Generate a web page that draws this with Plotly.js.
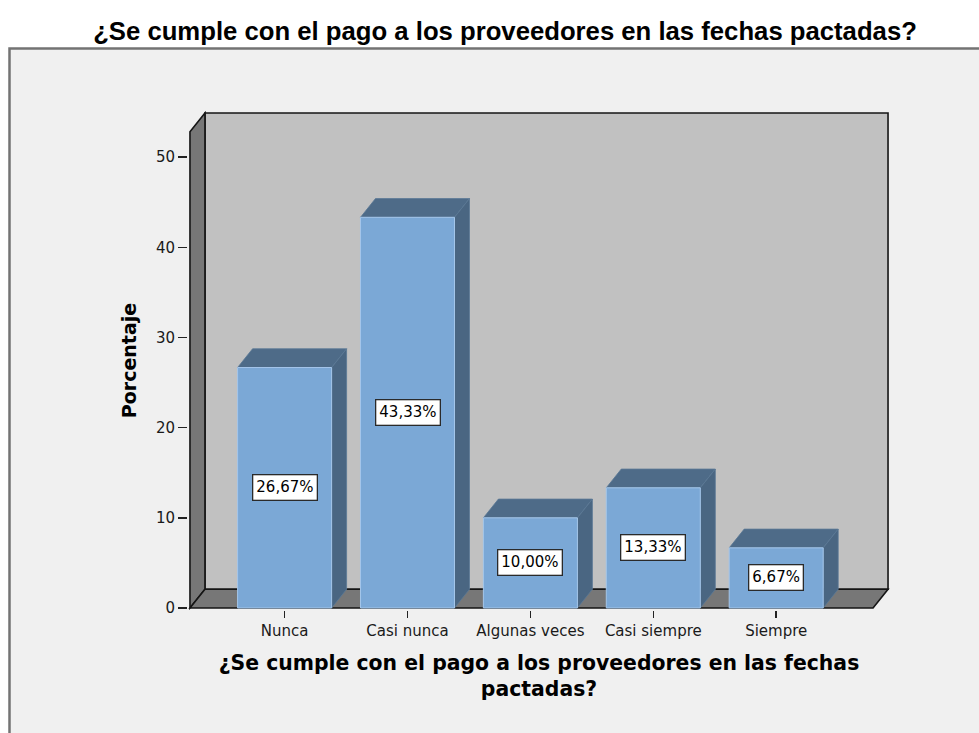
<!DOCTYPE html>
<html>
<head>
<meta charset="utf-8">
<script src="https://cdn.plot.ly/plotly-3.0.1.min.js"></script>
<style>
  html, body { margin: 0; padding: 0; background: #ffffff; }
  #chart { width: 979px; height: 733px; }
</style>
</head>
<body>
<div id="chart"></div>
<script>
// ---- data ----
const categories = ["Nunca", "Casi nunca", "Algunas veces", "Casi siempre", "Siempre"];
const percentages = [26.67, 43.33, 10.00, 13.33, 6.67];
const yTickValues = [0, 10, 20, 30, 40, 50];
const chartTitle = "¿Se cumple con el pago a los proveedores en las fechas pactadas?";
const xAxisTitle = "¿Se cumple con el pago a los proveedores en las fechas<br>pactadas?";
const yAxisTitle = "Porcentaje";

// ---- style / geometry ----
const W = 979, H = 733;
const M = { l: 188, r: 89, t: 111, b: 123 };
const X_RANGE = [-0.786, 4.926];
const Y_RANGE = [-0.222, 55.12];
const FRONT_X = -0.77;      // front-left edge of the 3D box
const BACK_TOP = 54.9;      // top of the back wall
const BAR_W = 0.765;        // bar width (category units)
const DX = 0.122;           // depth offset, x (category units)
const DY = 2.08;            // depth offset, y (value units)

const FRONT = "#7ba8d6", TOP = "#4e6b88", SIDE = "#4a6682";
const WALL = "#c1c1c1", FLOOR = "#777777", EDGE = "#151515";

const idx = categories.map((_, i) => i);
const fmt = v => v.toFixed(2).replace(".", ",") + "%";

const plotW = W - M.l - M.r, plotH = H - M.t - M.b;
const px2paperX = px => (px - M.l) / plotW;
const px2paperY = py => (H - M.b - py) / plotH;

const poly = pts => "M " + pts.map(p => p[0] + "," + p[1]).join(" L ") + " Z";

const shapes = [];
// grey frame of the chart area
shapes.push({
  type: "rect", xref: "paper", yref: "paper", layer: "below",
  x0: px2paperX(9.5), x1: px2paperX(995), y0: px2paperY(48.5), y1: px2paperY(760),
  fillcolor: "#f0f0f0", line: { color: "#737373", width: 2.5 }
});
const xMax = X_RANGE[1] - 0.016;
// back wall
shapes.push({
  type: "path", xref: "x", yref: "y", layer: "below",
  path: poly([[FRONT_X + DX, DY], [FRONT_X + DX, BACK_TOP], [xMax, BACK_TOP], [xMax, DY]]),
  fillcolor: WALL, line: { color: EDGE, width: 1.6 }
});
// left wall
shapes.push({
  type: "path", xref: "x", yref: "y", layer: "below",
  path: poly([[FRONT_X, 0], [FRONT_X, BACK_TOP - DY], [FRONT_X + DX, BACK_TOP], [FRONT_X + DX, DY]]),
  fillcolor: FLOOR, line: { color: EDGE, width: 1.6 }
});
// floor
shapes.push({
  type: "path", xref: "x", yref: "y", layer: "below",
  path: poly([[FRONT_X, 0], [FRONT_X + DX, DY], [xMax, DY], [xMax - DX, 0]]),
  fillcolor: FLOOR, line: { color: EDGE, width: 1.6 }
});
// bar tops and sides (3D effect)
idx.forEach(i => {
  const v = percentages[i];
  const l = i - BAR_W / 2, r = i + BAR_W / 2;
  shapes.push({
    type: "path", xref: "x", yref: "y", layer: "below",
    path: poly([[l, v], [r, v], [r + DX, v + DY], [l + DX, v + DY]]),
    fillcolor: TOP, line: { color: "#5a7896", width: 0.8 }
  });
  shapes.push({
    type: "path", xref: "x", yref: "y", layer: "below",
    path: poly([[r, 0], [r, v], [r + DX, v + DY], [r + DX, DY]]),
    fillcolor: SIDE, line: { color: "#5a7896", width: 0.8 }
  });
});

const annotations = idx.map(i => ({
  x: i, y: percentages[i] / 2, xref: "x", yref: "y",
  text: fmt(percentages[i]), showarrow: false,
  bgcolor: "#ffffff", bordercolor: "#2a2a2a", borderwidth: 1.3, borderpad: 3,
  font: { family: "DejaVu Sans", size: 15, color: "#000000" }
}));

const trace = {
  type: "bar", x: idx, y: percentages, width: BAR_W,
  marker: { color: FRONT, line: { color: "#a4c6ea", width: 1 } },
  hoverinfo: "skip", showlegend: false
};

const layout = {
  width: W, height: H,
  margin: M,
  paper_bgcolor: "#ffffff",
  plot_bgcolor: "rgba(0,0,0,0)",
  showlegend: false,
  hovermode: false,
  font: { family: "DejaVu Sans", color: "#1a1a1a" },
  title: {
    text: chartTitle,
    font: { family: "Liberation Sans", size: 25.7, color: "#000000", weight: "bold" },
    x: 505 / W, xanchor: "center", xref: "container",
    y: 1 - 31 / H, yanchor: "middle", yref: "container"
  },
  xaxis: {
    range: X_RANGE, tickvals: idx, ticktext: categories,
    showgrid: false, zeroline: false, showline: false,
    ticks: "outside", ticklen: 7, tickwidth: 1.5, tickcolor: "#222",
    tickfont: { family: "DejaVu Sans", size: 15, color: "#1a1a1a" },
    title: { text: xAxisTitle, standoff: 16,
      font: { family: "DejaVu Sans", size: 20.4, color: "#000000", weight: "bold" } },
    fixedrange: true
  },
  yaxis: {
    range: Y_RANGE, tickvals: yTickValues,
    showgrid: false, zeroline: false, showline: false,
    ticks: "outside", ticklen: 9, tickwidth: 1.5, tickcolor: "#222",
    tickfont: { family: "DejaVu Sans", size: 15, color: "#1a1a1a" },
    title: { text: yAxisTitle, standoff: 14,
      font: { family: "DejaVu Sans", size: 19, color: "#000000", weight: "bold" } },
    fixedrange: true
  },
  shapes: shapes,
  annotations: annotations
};

Plotly.newPlot("chart", [trace], layout, { displayModeBar: false, staticPlot: true });
</script>
</body>
</html>
